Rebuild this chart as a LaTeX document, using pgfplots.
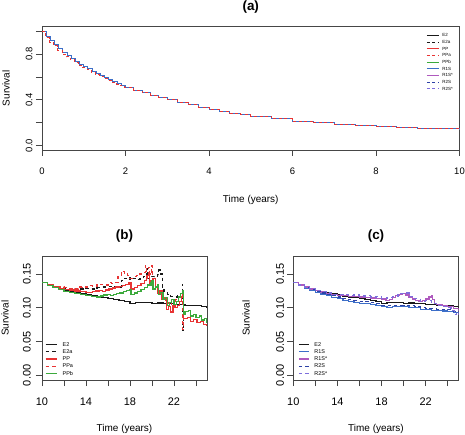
\documentclass[border=0pt]{standalone}
\usepackage{fontspec}
\setmainfont{Liberation Sans}
\usepackage{pgfplots}
\usepackage{pgfplotstable}
\pgfplotsset{compat=1.18}
\definecolor{cE}{RGB}{25,25,25}
\definecolor{cPP}{RGB}{232,52,52}
\definecolor{cPPb}{RGB}{60,170,60}
\definecolor{cRa}{RGB}{60,110,200}
\definecolor{cRas}{RGB}{175,90,190}
\definecolor{cRb}{RGB}{45,65,165}
\definecolor{cRbs}{RGB}{125,110,220}
\definecolor{boxc}{RGB}{70,70,70}

% panel (a): overall survival (all methods overlap)
\pgfplotstableread{
t S
0 1.000
0.1 0.955
0.2 0.918
0.3 0.885
0.4 0.846
0.5 0.812
0.6 0.786
0.7 0.760
0.8 0.735
0.9 0.712
1.0 0.690
1.1 0.670
1.2 0.651
1.3 0.632
1.4 0.613
1.5 0.595
1.6 0.578
1.7 0.560
1.8 0.543
1.9 0.526
2.0 0.510
2.2 0.485
2.4 0.461
2.6 0.440
2.8 0.419
3.0 0.400
3.25 0.377
3.5 0.356
3.75 0.335
4.0 0.315
4.25 0.299
4.5 0.284
4.75 0.270
5.0 0.256
5.5 0.232
6.0 0.212
6.5 0.198
7.0 0.186
7.5 0.176
8.0 0.166
8.5 0.158
9.0 0.151
9.5 0.144
10.0 0.138
}\topS
\pgfplotstableread{
t S
0 1.000
0.08 0.945
0.18 0.905
0.28 0.872
0.38 0.835
0.48 0.800
0.58 0.775
0.68 0.750
0.78 0.725
0.88 0.702
0.98 0.680
1.08 0.661
1.18 0.642
1.28 0.624
1.38 0.606
1.48 0.588
1.58 0.571
1.68 0.554
1.78 0.538
1.88 0.521
1.98 0.506
2.2 0.485
2.4 0.461
2.6 0.440
2.8 0.419
3.0 0.400
3.25 0.377
3.5 0.356
3.75 0.335
4.0 0.315
4.25 0.299
4.5 0.284
4.75 0.270
5.0 0.256
5.5 0.232
6.0 0.212
6.5 0.198
7.0 0.186
7.5 0.176
8.0 0.166
8.5 0.158
9.0 0.151
9.5 0.144
10.0 0.138
}\topSa

% panels (b),(c)
\pgfplotstableread{
t S
10.0 0.137
10.5 0.134
11.0 0.131
11.5 0.1285
12.0 0.126
12.5 0.124
13.0 0.122
13.5 0.1205
14.0 0.119
14.5 0.1175
15.0 0.116
15.5 0.115
16.0 0.114
16.5 0.1125
17.0 0.111
17.5 0.109
18.0 0.107
18.5 0.1075
19.0 0.108
19.5 0.1075
20.0 0.107
20.5 0.1072
21.0 0.107
21.5 0.106
22.0 0.105
22.5 0.1045
23.0 0.104
23.5 0.1035
24.0 0.103
24.5 0.1015
25.0 0.1005
}\Etwo
\pgfplotstableread{
t S
10.0 0.137
10.5 0.134
11.0 0.1315
11.5 0.130
12.0 0.129
12.5 0.128
13.0 0.127
13.5 0.128
14.0 0.129
14.5 0.128
15.0 0.130
15.5 0.131
16.0 0.132
16.5 0.131
17.0 0.130
17.2 0.140
17.5 0.144
17.8 0.142
18.0 0.145
18.3 0.144
18.6 0.142
18.9 0.143
19.2 0.146
19.4 0.140
19.5 0.158
19.6 0.143
19.8 0.147
20.0 0.146
20.2 0.147
20.5 0.149
20.6 0.156
20.8 0.150
20.95 0.130
21.1 0.124
21.4 0.120
21.7 0.117
22.0 0.116
22.3 0.118
22.6 0.117
22.75 0.135
22.8 0.066
22.85 0.085
22.9 0.085
}\Etwoa
\pgfplotstableread{
t S
10.0 0.137
10.5 0.134
11.0 0.131
11.5 0.129
12.0 0.127
12.5 0.1265
13.0 0.125
13.5 0.1245
14.0 0.123
14.3 0.1225
14.6 0.124
14.9 0.125
15.2 0.126
15.5 0.1245
15.8 0.1265
16.1 0.128
16.4 0.1295
16.7 0.131
17.0 0.132
17.3 0.1335
17.6 0.135
17.9 0.137
18.1 0.128
18.4 0.130
18.7 0.133
19.0 0.1365
19.3 0.140
19.5 0.144
19.6 0.148
19.75 0.136
19.9 0.140
20.1 0.143
20.3 0.132
20.5 0.121
20.7 0.124
20.9 0.112
21.1 0.115
21.3 0.098
21.5 0.102
21.7 0.094
21.9 0.104
22.1 0.100
22.3 0.104
22.5 0.110
22.65 0.117
22.75 0.124
22.85 0.084
23.2 0.086
23.5 0.080
23.8 0.083
24.1 0.078
24.4 0.080
24.7 0.075
25.0 0.074
}\PP
\pgfplotstableread{
t S
10.0 0.137
10.5 0.134
11.0 0.132
11.5 0.131
12.0 0.130
12.5 0.129
13.0 0.128
13.3 0.131
13.6 0.130
14.0 0.131
14.3 0.133
14.6 0.132
15.0 0.134
15.3 0.135
15.6 0.134
16.0 0.137
16.3 0.136
16.6 0.138
16.9 0.146
17.2 0.154
17.5 0.150
17.8 0.148
18.0 0.144
18.3 0.146
18.6 0.148
18.9 0.150
19.2 0.152
19.4 0.163
19.5 0.145
19.7 0.160
19.8 0.150
19.95 0.162
20.05 0.140
20.3 0.132
20.6 0.126
20.9 0.112
21.2 0.108
21.5 0.105
21.8 0.110
22.1 0.112
22.4 0.115
22.7 0.118
22.8 0.068
22.85 0.084
22.9 0.084
}\PPa
\pgfplotstableread{
t S
10.0 0.137
10.5 0.1335
11.0 0.130
11.5 0.127
12.0 0.1245
12.5 0.1225
13.0 0.121
13.5 0.1195
14.0 0.118
14.5 0.117
15.0 0.116
15.3 0.1175
15.6 0.119
15.9 0.120
16.2 0.118
16.5 0.1195
16.8 0.121
17.1 0.122
17.4 0.124
17.7 0.126
18.0 0.1265
18.1 0.120
18.4 0.122
18.7 0.1245
19.0 0.127
19.3 0.130
19.6 0.134
19.9 0.138
20.0 0.141
20.1 0.128
20.3 0.131
20.5 0.134
20.6 0.120
20.8 0.123
21.0 0.112
21.2 0.115
21.4 0.104
21.6 0.108
21.8 0.112
22.0 0.105
22.2 0.110
22.4 0.116
22.6 0.121
22.75 0.125
22.85 0.090
23.0 0.095
23.3 0.096
23.5 0.088
23.8 0.090
24.0 0.086
24.3 0.088
24.5 0.082
24.8 0.084
25.0 0.077
}\PPb
\pgfplotstableread{
t S
10.0 0.137
10.5 0.133
11.0 0.129
11.5 0.126
12.0 0.123
12.5 0.1205
13.0 0.118
13.5 0.1155
14.0 0.1135
14.5 0.1115
15.0 0.110
15.5 0.1085
16.0 0.107
16.5 0.106
17.0 0.105
17.5 0.1035
18.0 0.102
18.5 0.101
19.0 0.1015
19.5 0.1015
20.0 0.1015
20.5 0.101
21.0 0.100
21.5 0.097
22.0 0.097
22.5 0.0965
23.0 0.096
23.5 0.0955
24.0 0.095
24.5 0.0935
25.0 0.092
}\RaS
\pgfplotstableread{
t S
10.0 0.137
10.5 0.1335
11.0 0.130
11.5 0.127
12.0 0.1245
12.5 0.122
13.0 0.120
13.5 0.118
14.0 0.116
14.5 0.114
15.0 0.112
15.5 0.111
16.0 0.110
16.5 0.109
17.0 0.1075
17.5 0.106
18.0 0.104
18.5 0.1035
19.0 0.104
19.5 0.104
20.0 0.104
20.5 0.103
21.0 0.102
21.5 0.100
22.0 0.099
22.5 0.099
23.0 0.098
23.5 0.098
24.0 0.097
24.5 0.095
25.0 0.094
}\RbS
\pgfplotstableread{
t S
10.0 0.137
10.5 0.134
11.0 0.131
11.5 0.128
12.0 0.1255
12.5 0.1235
13.0 0.1215
13.5 0.1195
14.0 0.118
14.5 0.118
15.0 0.117
15.5 0.117
16.0 0.116
16.5 0.1155
17.0 0.1145
17.5 0.114
18.0 0.113
18.4 0.111
18.7 0.1125
19.0 0.115
19.3 0.118
19.6 0.120
19.9 0.121
20.2 0.119
20.5 0.115
20.8 0.113
21.1 0.111
21.4 0.109
21.7 0.1105
22.0 0.113
22.3 0.116
22.5 0.118
22.6 0.112
22.8 0.107
23.0 0.105
23.5 0.104
24.0 0.102
24.5 0.099
25.0 0.096
}\RaSs
\pgfplotstableread{
t S
10.0 0.137
10.5 0.134
11.0 0.131
11.5 0.1285
12.0 0.126
12.5 0.124
13.0 0.122
13.5 0.120
14.0 0.1195
14.5 0.120
15.0 0.1185
15.5 0.119
16.0 0.1175
16.5 0.118
17.0 0.116
17.5 0.1165
18.0 0.114
18.5 0.115
19.0 0.117
19.5 0.121
20.0 0.122
20.5 0.117
21.0 0.114
21.5 0.110
22.0 0.111
22.5 0.107
23.0 0.104
23.5 0.102
24.0 0.100
24.3 0.096
24.6 0.090
24.8 0.094
25.0 0.086
}\RbSs

\pgfplotsset{
 Rbase/.style={
  scale only axis,
  axis line style={boxc, line width=0.8bp},
  tick style={boxc, line width=0.8bp},
  tick align=outside,
  major tick length=6bp,
  xtick pos=bottom, ytick pos=left,
  legend cell align=left,
  every axis title/.style={at={(axis description cs:0.5,1)}, anchor=center, yshift=20bp, font=\fontsize{13.5}{14}\selectfont\bfseries},
  xticklabel style={anchor=north, inner sep=0pt},
  yticklabel style={rotate=90, anchor=south, inner sep=0pt},
 }
}

\begin{document}
\begin{tikzpicture}
\useasboundingbox (0,0) rectangle (465bp,435bp);

% ---------- (a)
\begin{axis}[Rbase,
  at={(42bp,285bp)}, anchor=south west,
  width=417.5bp, height=123.3bp,
  xmin=0, xmax=10, ymin=-0.04, ymax=1.04,
  xtick={0,2,4,6,8,10}, xticklabels={0,2,4,6,8,10},
  ytick={0,0.2,0.4,0.6,0.8,1}, yticklabels={0.0,,0.4,,0.8,},
  ticklabel style={font=\fontsize{9.5}{11}\selectfont},
  xticklabel shift=12bp, yticklabel shift=3.3bp,
  title={(a)},
  xlabel={Time (years)}, ylabel={Survival},
  label style={font=\fontsize{9.5}{11}\selectfont},
  every axis x label/.style={at={(axis description cs:0.5,0)}, anchor=center, yshift=-50bp},
  every axis y label/.style={at={(axis description cs:-0.0862,0.5)}, rotate=90, anchor=center},
  legend style={at={(axis description cs:0.921,0.945)}, anchor=north west, draw=none, fill=none,
     inner sep=0pt, outer sep=0pt, font=\fontsize{4.5}{5}\selectfont,
     row sep=3.2bp, column sep=3.4bp, nodes={inner sep=0pt, text height=3.2bp, text depth=0.3bp}},
  legend image code/.code={\draw[#1] (0bp,0bp) -- (11.6bp,0bp);},
]
\addlegendimage{cE, line width=0.8bp}
\addlegendentry{E2}
\addlegendimage{cE, line width=0.8bp, dash pattern=on 3bp off 2.5bp}
\addlegendentry{E2a}
\addlegendimage{cPP, line width=0.8bp}
\addlegendentry{PP}
\addlegendimage{cPP, line width=0.8bp, dash pattern=on 3bp off 2.5bp}
\addlegendentry{PPa}
\addlegendimage{cPPb, line width=0.8bp}
\addlegendentry{PPb}
\addlegendimage{cRa, line width=0.8bp}
\addlegendentry{R1S}
\addlegendimage{cRas, line width=0.8bp}
\addlegendentry{R1S*}
\addlegendimage{cRb, line width=0.8bp, dash pattern=on 3bp off 2.5bp}
\addlegendentry{R2S}
\addlegendimage{cRbs, line width=0.8bp, dash pattern=on 3bp off 2.5bp}
\addlegendentry{R2S*}
\addplot[forget plot, const plot, cE, line width=1bp] table[x=t,y=S] {\topS};
\addplot[forget plot, const plot, cE, line width=1bp, dash pattern=on 3bp off 2.5bp] table[x=t,y=S] {\topS};
\addplot[forget plot, const plot, cPP, line width=1bp] table[x=t,y=S] {\topS};
\addplot[forget plot, const plot, cPPb, line width=1bp] table[x=t,y=S] {\topS};
\addplot[forget plot, const plot, cRas, line width=1bp] table[x=t,y=S] {\topS};
\addplot[forget plot, const plot, cRb, line width=1bp, dash pattern=on 3bp off 2.5bp] table[x=t,y=S] {\topS};
\addplot[forget plot, const plot, cRbs, line width=1bp, dash pattern=on 3bp off 2.5bp] table[x=t,y=S] {\topS};
\addplot[forget plot, const plot, cRa, line width=1bp] table[x=t,y=S] {\topS};
\addplot[forget plot, const plot, cPP, line width=1bp, dash pattern=on 3bp off 2.5bp] table[x=t,y=S] {\topSa};
\end{axis}

% ---------- (b)
\begin{axis}[Rbase,
  at={(42bp,55bp)}, anchor=south west,
  width=165bp, height=124bp,
  xmin=10, xmax=25, ymin=-0.0068, ymax=0.1768,
  xtick={10,12,14,16,18,20,22,24}, xticklabels={10,,14,,18,,22,},
  ytick={0,0.05,0.1,0.15}, yticklabels={0.00,0.05,0.10,0.15},
  ticklabel style={font=\fontsize{11}{13}\selectfont},
  xticklabel shift=11.75bp, yticklabel shift=5bp,
  title={(b)},
  xlabel={Time (years)}, ylabel={Survival},
  label style={font=\fontsize{11}{13}\selectfont},
  every axis x label/.style={at={(axis description cs:0.5,0)}, anchor=center, yshift=-49.3bp},
  every axis y label/.style={at={(axis description cs:-0.224,0.5)}, rotate=90, anchor=center},
  legend style={at={(axis description cs:0.018,0.3036)}, anchor=north west, draw=none, fill=none,
     inner sep=0pt, outer sep=0pt, font=\fontsize{5.5}{6}\selectfont,
     row sep=2.9bp, column sep=5.5bp, nodes={inner sep=0pt, text height=3.9bp, text depth=0.4bp}},
  legend image code/.code={\draw[#1] (0bp,0bp) -- (11bp,0bp);},
]
\addplot[const plot, cE, line width=1.2bp] table[x=t,y=S] {\Etwo};
\addlegendentry{E2}
\addplot[const plot, cE, line width=1.2bp, dash pattern=on 3.5bp off 3bp] table[x=t,y=S] {\Etwoa};
\addlegendentry{E2a}
\addplot[const plot, cPP, line width=1.2bp] table[x=t,y=S] {\PP};
\addlegendentry{PP}
\addplot[const plot, cPP, line width=1.2bp, dash pattern=on 3.5bp off 3bp] table[x=t,y=S] {\PPa};
\addlegendentry{PPa}
\addplot[const plot, cPPb, line width=1.2bp] table[x=t,y=S] {\PPb};
\addlegendentry{PPb}
\end{axis}

% ---------- (c)
\begin{axis}[Rbase,
  at={(293.3bp,55bp)}, anchor=south west,
  width=165.4bp, height=124bp,
  xmin=10, xmax=25, ymin=-0.0068, ymax=0.1768,
  xtick={10,12,14,16,18,20,22,24}, xticklabels={10,,14,,18,,22,},
  ytick={0,0.05,0.1,0.15}, yticklabels={0.00,0.05,0.10,0.15},
  ticklabel style={font=\fontsize{11}{13}\selectfont},
  xticklabel shift=11.75bp, yticklabel shift=3bp,
  title={(c)},
  xlabel={Time (years)}, ylabel={Survival},
  label style={font=\fontsize{11}{13}\selectfont},
  every axis x label/.style={at={(axis description cs:0.5,0)}, anchor=center, yshift=-49.3bp},
  every axis y label/.style={at={(axis description cs:-0.286,0.5)}, rotate=90, anchor=center},
  legend style={at={(axis description cs:0.030,0.3036)}, anchor=north west, draw=none, fill=none,
     inner sep=0pt, outer sep=0pt, font=\fontsize{5.5}{6}\selectfont,
     row sep=2.9bp, column sep=5bp, nodes={inner sep=0pt, text height=3.9bp, text depth=0.4bp}},
  legend image code/.code={\draw[#1] (0bp,0bp) -- (10bp,0bp);},
]
\addplot[const plot, cE, line width=1.2bp] table[x=t,y=S] {\Etwo};
\addlegendentry{E2}
\addplot[const plot, cRa, line width=1.2bp] table[x=t,y=S] {\RaS};
\addlegendentry{R1S}
\addplot[const plot, cRas, line width=1.2bp] table[x=t,y=S] {\RaSs};
\addlegendentry{R1S*}
\addplot[const plot, cRb, line width=1.2bp, dash pattern=on 3.5bp off 3bp] table[x=t,y=S] {\RbS};
\addlegendentry{R2S}
\addplot[const plot, cRbs, line width=1.2bp, dash pattern=on 3.5bp off 3bp] table[x=t,y=S] {\RbSs};
\addlegendentry{R2S*}
\end{axis}
\end{tikzpicture}
\end{document}
